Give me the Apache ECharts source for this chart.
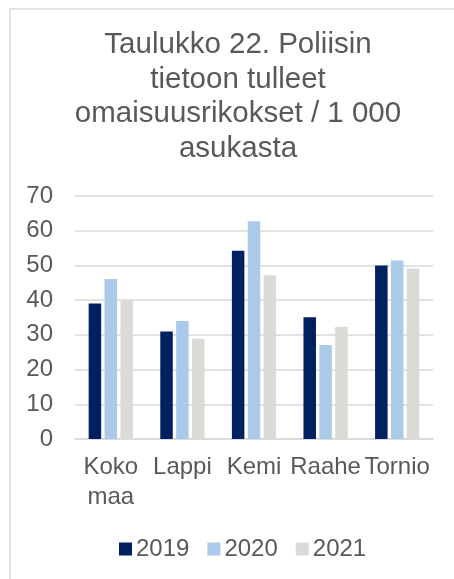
<!DOCTYPE html>
<html>
<head>
<meta charset="utf-8">
<script src="https://cdn.jsdelivr.net/npm/echarts@6/dist/echarts.min.js"></script>
<style>
  html, body { margin: 0; padding: 0; background: #fff; }
  #chart { width: 454px; height: 579px; }
</style>
</head>
<body>
<div id="chart"></div>
<script>
// data
const categories = ["Koko maa", "Lappi", "Kemi", "Raahe", "Tornio"];
const years = ["2019", "2020", "2021"];
const values2019 = [39, 31, 54.2, 35.1, 50];
const values2020 = [46.1, 34, 62.7, 27.1, 51.4];
const values2021 = [40, 28.9, 47.2, 32.3, 49.1];
const yTicks = [0, 10, 20, 30, 40, 50, 60, 70];

const colors = ["#002060", "#abc9e8", "#dadad6"];
const font = "Liberation Sans, Arial, sans-serif";
const textColor = "#595959";

const chart = echarts.init(document.getElementById("chart"), null, { renderer: "canvas" });

const seriesData = [values2019, values2020, values2021];

const option = {
  animation: false,
  color: colors,
  title: {
    text: "Taulukko 22. Poliisin\ntietoon tulleet\nomaisuusrikokset / 1 000\nasukasta",
    left: 233,
    top: 23,
    textAlign: "center",
    textStyle: {
      fontFamily: font,
      fontSize: 29.5,
      fontWeight: "normal",
      color: textColor,
      lineHeight: 34.5,
    },
  },
  legend: {
    data: years,
    bottom: 13,
    left: 114,
    itemWidth: 13,
    itemHeight: 13,
    itemGap: 18,
    icon: "rect",
    textStyle: {
      fontFamily: font,
      fontSize: 24,
      color: textColor,
      padding: [0, 0, 0, -1],
    },
  },
  grid: {
    left: 75,
    right: 21,
    top: 196,
    bottom: 140,
    containLabel: false,
  },
  xAxis: {
    type: "category",
    data: categories,
    axisTick: { show: false },
    axisLine: { lineStyle: { color: "#d9d9d9", width: 1.5 } },
    axisLabel: {
      interval: 0,
      margin: 13,
      fontFamily: font,
      fontSize: 24,
      color: textColor,
      lineHeight: 30,
      formatter: (v) => v.replace(" ", "\n"),
    },
  },
  yAxis: {
    type: "value",
    min: yTicks[0],
    max: yTicks[yTicks.length - 1],
    interval: 10,
    axisLine: { show: false },
    axisTick: { show: false },
    splitLine: { lineStyle: { color: "#d9d9d9", width: 1.5 } },
    axisLabel: {
      margin: 22,
      fontFamily: font,
      fontSize: 24,
      color: textColor,
    },
  },
  series: years.map((y, i) => ({
    name: y,
    type: "bar",
    data: seriesData[i],
    barWidth: 12.5,
    barGap: "27%",
  })),
  graphic: [
    {
      type: "rect",
      silent: true,
      shape: { x: 10, y: 9, width: 600, height: 700 },
      style: { fill: "none", stroke: "#d9d9d9", lineWidth: 1.5 },
    },
  ],
};

chart.setOption(option);
</script>
</body>
</html>
